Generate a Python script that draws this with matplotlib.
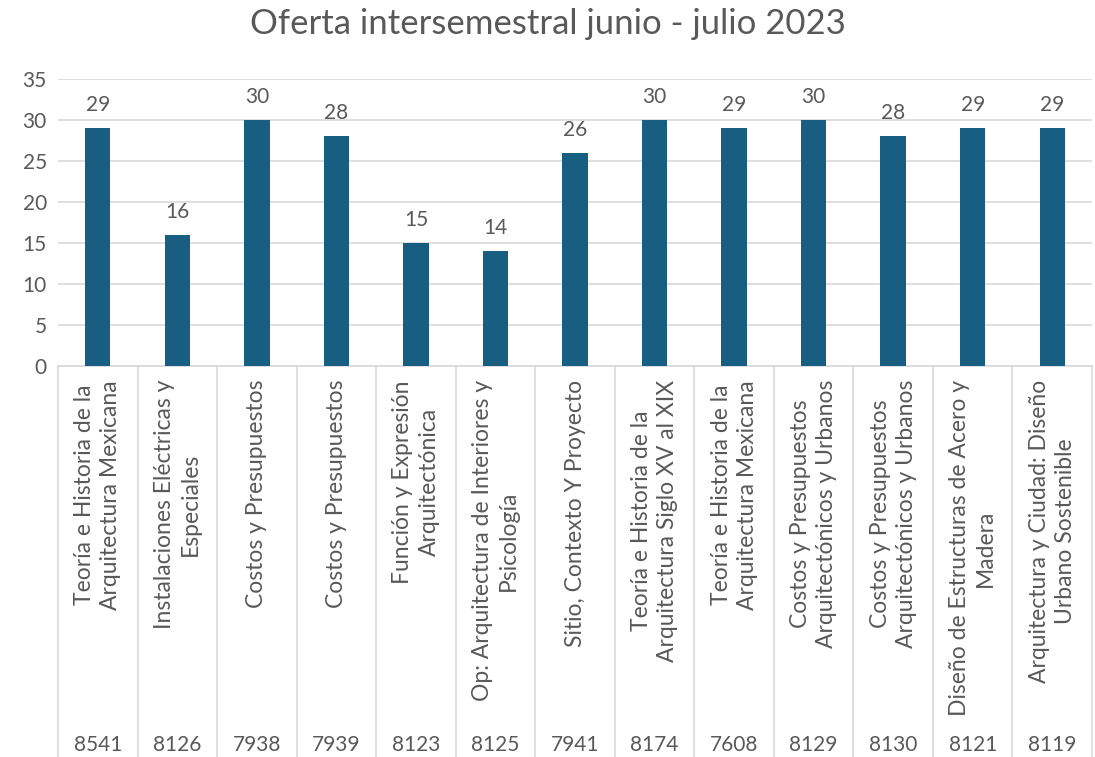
import matplotlib.pyplot as plt
from matplotlib.transforms import blended_transform_factory

# course names (two-line where the original wraps) and course codes
cursos = [
    "Teoría e Historia de la\nArquitectura Mexicana",
    "Instalaciones Eléctricas y\nEspeciales",
    "Costos y Presupuestos",
    "Costos y Presupuestos",
    "Función y Expresión\nArquitectónica",
    "Op: Arquitectura de Interiores y\nPsicología",
    "Sitio, Contexto Y Proyecto",
    "Teoría e Historia de la\nArquitectura Siglo XV al XIX",
    "Teoría e Historia de la\nArquitectura Mexicana",
    "Costos y Presupuestos\nArquitectónicos y Urbanos",
    "Costos y Presupuestos\nArquitectónicos y Urbanos",
    "Diseño de Estructuras de Acero y\nMadera",
    "Arquitectura y Ciudad: Diseño\nUrbano Sostenible",
]
claves = ["8541", "8126", "7938", "7939", "8123", "8125", "7941",
          "8174", "7608", "8129", "8130", "8121", "8119"]
oferta = [29, 16, 30, 28, 15, 14, 26, 30, 29, 30, 28, 29, 29]

gris = "#595959"
azul = "#175E80"
plt.rcParams['font.family'] = ['Lato', 'DejaVu Sans']

fig = plt.figure(figsize=(10.95, 7.57), dpi=100)
ax = fig.add_axes([58 / 1095, 1 - 366 / 757, (1092 - 58) / 1095, (366 - 79) / 757])

x = list(range(len(oferta)))
bars = ax.bar(x, oferta, width=0.32, color=azul, zorder=3)
for b, v in zip(bars, oferta):
    ax.text(b.get_x() + b.get_width() / 2, v + 1.6, str(v), ha="center", va="bottom",
            fontsize=15, color=gris)

ax.set_xlim(-0.5, len(oferta) - 0.5)
ax.set_ylim(0, 35)
ax.set_yticks(range(0, 36, 5))
ax.tick_params(axis="y", length=0, labelsize=15, labelcolor=gris, pad=8)
ax.set_xticks([])
ax.yaxis.grid(True, color="#D9D9D9", linewidth=1.2, zorder=0)
for s in ["top", "right", "left"]:
    ax.spines[s].set_visible(False)
ax.spines["bottom"].set_color("#D9D9D9")
ax.spines["bottom"].set_linewidth(1.2)

trans = blended_transform_factory(ax.transData, ax.transAxes)
fondo = -(757 - 366) / (366 - 79)
for i in range(len(oferta) + 1):
    ax.plot([i - 0.5, i - 0.5], [0, fondo], transform=trans, color="#D9D9D9",
            linewidth=1.2, clip_on=False)

for i, (c, k) in enumerate(zip(cursos, claves)):
    ax.text(i, -14 / 287, c, transform=trans, rotation=90, ha="center", va="top",
            multialignment="center", fontsize=16.5, color=gris, linespacing=1.3)
    ax.text(i, -(745 - 366) / 287, k, transform=trans, ha="center", va="center",
            fontsize=15, color=gris)

fig.text(0.5, 1 - 24 / 757, "Oferta intersemestral junio - julio 2023", ha="center",
         va="center", fontsize=25, color=gris)

fig.savefig("out.png", dpi=100)
